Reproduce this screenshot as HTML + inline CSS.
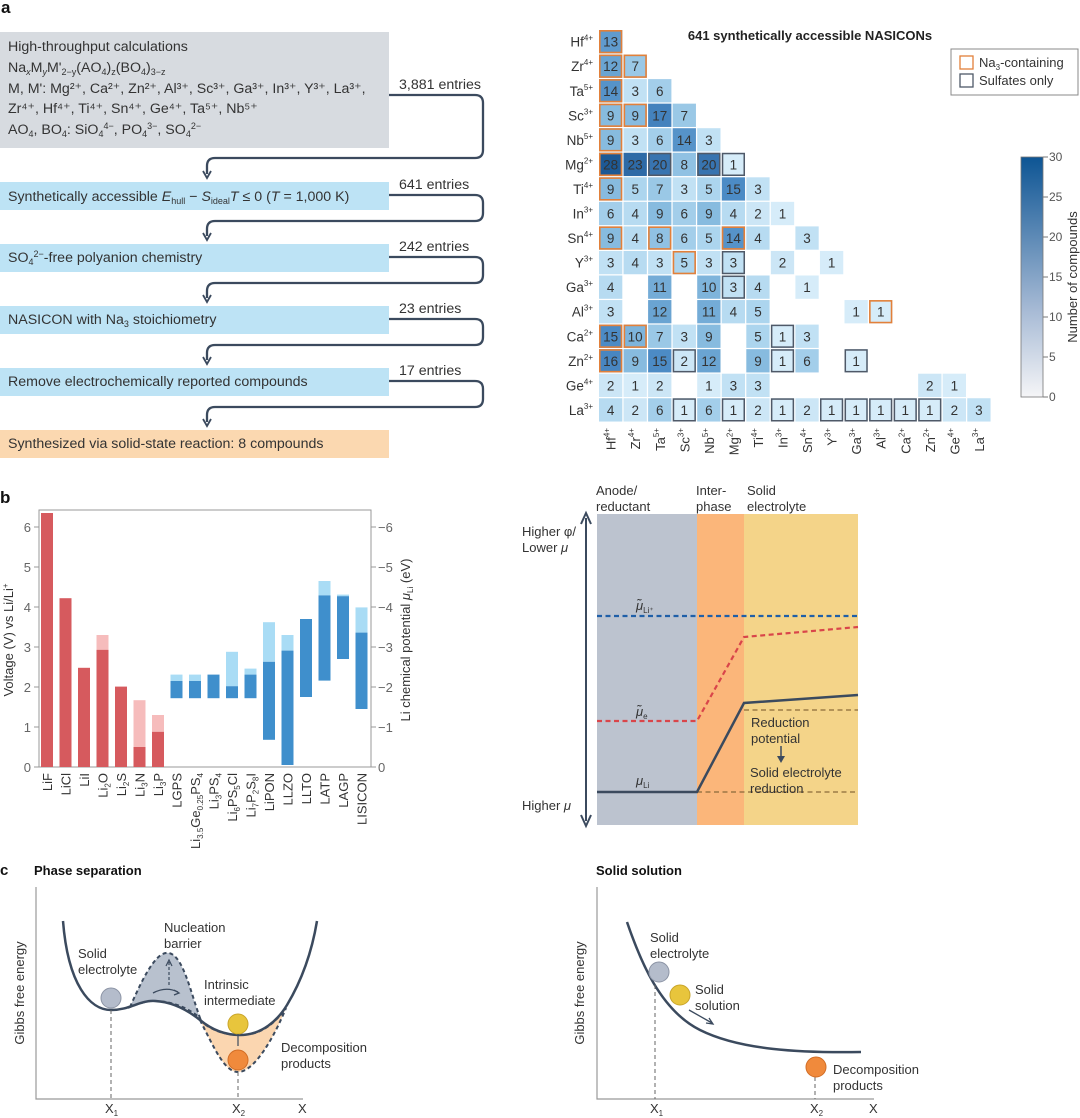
<!DOCTYPE html>
<html><head><meta charset="utf-8"><style>
html,body{margin:0;padding:0;background:#fff}
svg{display:block;font-family:"Liberation Sans",sans-serif}
</style></head><body>
<svg id="fig" width="1080" height="1118" viewBox="0 0 1080 1118" xmlns="http://www.w3.org/2000/svg">
<!-- Panel a: flowchart -->
<g font-size="14.2" fill="#333">
<text x="1" y="13" font-weight="bold" font-size="17" fill="#111">a</text>
<rect x="0" y="32" width="389" height="116" fill="#d7dbe0"/>
<text x="8" y="51">High-throughput calculations</text>
<text x="8" y="72">Na<tspan font-size="9" dy="3" font-style="italic">x</tspan><tspan dy="-3">M</tspan><tspan font-size="9" dy="3" font-style="italic">y</tspan><tspan dy="-3">M'</tspan><tspan font-size="9" dy="3">2−y</tspan><tspan dy="-3">(AO</tspan><tspan font-size="9" dy="3">4</tspan><tspan dy="-3">)</tspan><tspan font-size="9" dy="3">z</tspan><tspan dy="-3">(BO</tspan><tspan font-size="9" dy="3">4</tspan><tspan dy="-3">)</tspan><tspan font-size="9" dy="3">3−z</tspan></text>
<text x="8" y="93">M, M': Mg²⁺, Ca²⁺, Zn²⁺, Al³⁺, Sc³⁺, Ga³⁺, In³⁺, Y³⁺, La³⁺,</text>
<text x="8" y="113">Zr⁴⁺,  Hf⁴⁺, Ti⁴⁺, Sn⁴⁺, Ge⁴⁺, Ta⁵⁺, Nb⁵⁺</text>
<text x="8" y="134">AO<tspan font-size="9" dy="3">4</tspan><tspan dy="-3">, BO</tspan><tspan font-size="9" dy="3">4</tspan><tspan dy="-3">: SiO</tspan><tspan font-size="9" dy="3">4</tspan><tspan font-size="9" dy="-8">4−</tspan><tspan dy="5">, PO</tspan><tspan font-size="9" dy="3">4</tspan><tspan font-size="9" dy="-8">3−</tspan><tspan dy="5">, SO</tspan><tspan font-size="9" dy="3">4</tspan><tspan font-size="9" dy="-8">2−</tspan></text>

<rect x="0" y="182" width="389" height="28" fill="#bde3f5"/>
<text x="8" y="201">Synthetically accessible <tspan font-style="italic">E</tspan><tspan font-size="9" dy="3">hull</tspan><tspan dy="-3"> − </tspan><tspan font-style="italic">S</tspan><tspan font-size="9" dy="3">ideal</tspan><tspan dy="-3" font-style="italic">T</tspan> ≤ 0 (<tspan font-style="italic">T</tspan> = 1,000 K)</text>
<rect x="0" y="244" width="389" height="28" fill="#bde3f5"/>
<text x="8" y="262">SO<tspan font-size="9" dy="3">4</tspan><tspan font-size="9" dy="-8">2−</tspan><tspan dy="5">-free polyanion chemistry</tspan></text>
<rect x="0" y="306" width="389" height="28" fill="#bde3f5"/>
<text x="8" y="324">NASICON with Na<tspan font-size="9" dy="3">3</tspan><tspan dy="-3"> stoichiometry</tspan></text>
<rect x="0" y="368" width="389" height="28" fill="#bde3f5"/>
<text x="8" y="386">Remove electrochemically reported compounds</text>
<rect x="0" y="430" width="389" height="28" fill="#fbd8b0"/>
<text x="8" y="448">Synthesized via solid-state reaction: 8 compounds</text>
<g id="connectors" fill="none" stroke="#3b4a5e" stroke-width="2.3"></g>
</g>

<!-- Panel a: heatmap -->
<g id="heat"></g>

<!-- Panel b bar chart -->
<g id="bars"></g>

<!-- Panel b schematic -->
<g font-size="13" fill="#333">
<rect x="597" y="514" width="100" height="311" fill="#bcc3cf"/>
<rect x="697" y="514" width="47" height="311" fill="#fbb67a"/>
<rect x="744" y="514" width="114" height="311" fill="#f4d489"/>
<text x="596" y="495"><tspan x="596">Anode/</tspan><tspan x="596" dy="16">reductant</tspan></text>
<text x="696" y="495"><tspan x="696">Inter-</tspan><tspan x="696" dy="16">phase</tspan></text>
<text x="747" y="495"><tspan x="747">Solid</tspan><tspan x="747" dy="16">electrolyte</tspan></text>
<line x1="586" y1="518" x2="586" y2="821" stroke="#3b4a5e" stroke-width="2"/>
<path d="M581,524 L586,513 L591,524 M581,815 L586,826 L591,815" fill="none" stroke="#3b4a5e" stroke-width="2"/>
<text x="522" y="536"><tspan x="522">Higher φ/</tspan><tspan x="522" dy="16">Lower <tspan font-style="italic">μ</tspan></tspan></text>
<text x="522" y="810">Higher <tspan font-style="italic">μ</tspan></text>
<line x1="597" y1="616" x2="858" y2="616" stroke="#1f5fa8" stroke-width="2.2" stroke-dasharray="5,3.5"/>
<polyline points="597,721 697,721 744,637 858,627" fill="none" stroke="#d9454a" stroke-width="2.2" stroke-dasharray="5,3.5"/>
<polyline points="744,710 858,710" fill="none" stroke="#8a6a3a" stroke-width="1.2" stroke-dasharray="5,3.5"/>
<polyline points="697,792 858,792" fill="none" stroke="#8a6a3a" stroke-width="1.2" stroke-dasharray="5,3.5"/>
<polyline points="597,792 697,792 744,703 858,695" fill="none" stroke="#3b4a5e" stroke-width="2.5"/>
<text x="636" y="610" font-style="italic">μ̃<tspan font-size="8" dy="3" font-style="normal">Li⁺</tspan></text>
<text x="636" y="716" font-style="italic">μ̃<tspan font-size="8" dy="3" font-style="normal">e</tspan></text>
<text x="636" y="785" font-style="italic">μ<tspan font-size="8" dy="3" font-style="normal">Li</tspan></text>
<text x="751" y="727"><tspan x="751">Reduction</tspan><tspan x="751" dy="16">potential</tspan></text>
<line x1="781" y1="746" x2="781" y2="758" stroke="#3b4a5e" stroke-width="1.5"/>
<path d="M777,756 L781,763 L785,756Z" fill="#3b4a5e"/>
<text x="750" y="777"><tspan x="750">Solid electrolyte</tspan><tspan x="750" dy="16">reduction</tspan></text>
</g>

<!-- Panel c -->
<g font-size="13" fill="#333">
<text x="0" y="875" font-weight="bold" font-size="15" fill="#111">c</text>
<text x="34" y="875" font-weight="bold" font-size="13" fill="#111">Phase separation</text>
<path d="M36,887 V1099 H303" fill="none" stroke="#999" stroke-width="1.2"/>
<text x="24" y="993" transform="rotate(-90 24 993)" text-anchor="middle">Gibbs free energy</text>
<path d="M130,1007 C140,985 155,950 169,953 C183,956 190,990 200,1018 C185,1005 165,1000 150,1001 C140,1003 135,1005 130,1007Z" fill="#b8c1ce" stroke="#3b4a5e" stroke-width="2" stroke-dasharray="4,3"/>
<path d="M200,1020 C215,1050 225,1072 238,1072 C255,1072 275,1035 286,1008 C270,1030 255,1035 240,1035 C225,1035 210,1030 200,1020Z" fill="#fbd6b0" stroke="#3b4a5e" stroke-width="2" stroke-dasharray="4,3"/>
<path d="M63,921 C68,985 90,1010 111,1010 C130,1010 140,1000 155,1001 C175,1002 190,1012 200,1020 C212,1030 225,1035 240,1035 C262,1035 278,1020 287,1005 C305,975 313,945 317,921" fill="none" stroke="#3b4a5e" stroke-width="2.5"/>
<line x1="111" y1="1010" x2="111" y2="1099" stroke="#666" stroke-dasharray="4,3"/>
<line x1="238" y1="1072" x2="238" y2="1099" stroke="#666" stroke-dasharray="4,3"/>
<line x1="169" y1="985" x2="169" y2="962" stroke="#3b4a5e" stroke-dasharray="3,2" stroke-width="1.2"/>
<path d="M166,966 L169,960 L172,966" fill="none" stroke="#3b4a5e" stroke-width="1.2"/>
<path d="M153,993 Q166,986 178,992" fill="none" stroke="#3b4a5e" stroke-width="1.3"/>
<path d="M174,990 L179,993 L174,995" fill="none" stroke="#3b4a5e" stroke-width="1.3"/>
<circle cx="111" cy="998" r="10" fill="#b4bccb" stroke="#8c94a5"/>
<circle cx="238" cy="1024" r="10" fill="#e8c53c" stroke="#c9a52a"/>
<line x1="238" y1="1034" x2="238" y2="1046" stroke="#3b4a5e" stroke-width="1.2"/>
<circle cx="238" cy="1060" r="10" fill="#f08a3c" stroke="#d26d25"/>
<text x="78" y="958"><tspan x="78">Solid</tspan><tspan x="78" dy="16">electrolyte</tspan></text>
<text x="164" y="932"><tspan x="164">Nucleation</tspan><tspan x="164" dy="16">barrier</tspan></text>
<text x="204" y="989"><tspan x="204">Intrinsic</tspan><tspan x="204" dy="16">intermediate</tspan></text>
<text x="281" y="1052"><tspan x="281">Decomposition</tspan><tspan x="281" dy="16">products</tspan></text>
<text x="105" y="1113">X<tspan font-size="8" dy="3">1</tspan></text>
<text x="232" y="1113">X<tspan font-size="8" dy="3">2</tspan></text>
<text x="298" y="1113">X</text>

<text x="596" y="875" font-weight="bold" font-size="13" fill="#111">Solid solution</text>
<path d="M597,887 V1099 H874" fill="none" stroke="#999" stroke-width="1.2"/>
<text x="584" y="993" transform="rotate(-90 584 993)" text-anchor="middle">Gibbs free energy</text>
<path d="M627,922 C640,960 660,1010 700,1030 C740,1050 800,1053 861,1052" fill="none" stroke="#3b4a5e" stroke-width="2.5"/>
<line x1="655" y1="985" x2="655" y2="1099" stroke="#666" stroke-dasharray="4,3"/>
<line x1="815" y1="1077" x2="815" y2="1099" stroke="#666" stroke-dasharray="4,3"/>
<path d="M689,1010 L712,1023 M706,1023 L713,1024 L709,1018" fill="none" stroke="#3b4a5e" stroke-width="1.3"/>
<circle cx="659" cy="972" r="10" fill="#b4bccb" stroke="#8c94a5"/>
<circle cx="680" cy="995" r="10" fill="#e8c53c" stroke="#c9a52a"/>
<circle cx="816" cy="1067" r="10" fill="#f08a3c" stroke="#d26d25"/>
<text x="650" y="942"><tspan x="650">Solid</tspan><tspan x="650" dy="16">electrolyte</tspan></text>
<text x="695" y="994"><tspan x="695">Solid</tspan><tspan x="695" dy="16">solution</tspan></text>
<text x="833" y="1074"><tspan x="833">Decomposition</tspan><tspan x="833" dy="16">products</tspan></text>
<text x="650" y="1113">X<tspan font-size="8" dy="3">1</tspan></text>
<text x="810" y="1113">X<tspan font-size="8" dy="3">2</tspan></text>
<text x="869" y="1113">X</text>
</g>
</svg>
<script>
const NS="http://www.w3.org/2000/svg";
function mk(tag,attrs,parent){const e=document.createElementNS(NS,tag);for(const k in attrs)e.setAttribute(k,attrs[k]);parent.appendChild(e);return e;}

// ---- flowchart connectors ----
const entryLabels=["3,881 entries","641 entries","242 entries","23 entries","17 entries"];
const connY=[[95,158,178],[195,221,240],[257,283,302],[319,345,364],[381,407,426]];
const conn=document.getElementById('connectors');
connY.forEach((c,i)=>{
  const [a,b,t]=c;
  const p=mk('path',{d:`M389,${a} H475 Q483,${a} 483,${a+8} V${b-8} Q483,${b} 475,${b} H215 Q207,${b} 207,${b+8} V${t-4}`},conn);
  
  
  const h=mk('path',{d:`M203,${t-7} L207,${t} L211,${t-7}`,'stroke-width':'1.8'},conn);
  
  
  const tx=mk('text',{x:399,y:a-6,'font-size':'14.2',fill:'#333',stroke:'none'},conn.parentNode);
  tx.textContent=entryLabels[i];
  
  
});

// ---- heatmap ----
const ions=["Hf","Zr","Ta","Sc","Nb","Mg","Ti","In","Sn","Y","Ga","Al","Ca","Zn","Ge","La"];
const charges=["4+","4+","5+","3+","5+","2+","4+","3+","4+","3+","3+","3+","2+","2+","4+","3+"];
const heatValues=[
[13],
[12,7],
[14,3,6],
[9,9,17,7],
[9,3,6,14,3],
[28,23,20,8,20,1],
[9,5,7,3,5,15,3],
[6,4,9,6,9,4,2,1],
[9,4,8,6,5,14,4,null,3],
[3,4,3,5,3,3,null,2,null,1],
[4,null,11,null,10,3,4,null,1,null,null],
[3,null,12,null,11,4,5,null,null,null,1,1],
[15,10,7,3,9,null,5,1,3,null,null,null,null],
[16,9,15,2,12,null,9,1,6,null,1,null,null,null],
[2,1,2,null,1,3,3,null,null,null,null,null,null,2,1],
[4,2,6,1,6,1,2,1,2,1,1,1,1,1,2,3]];
const na3Cells=[[0,0],[1,0],[2,0],[3,0],[4,0],[5,0],[6,0],[8,0],[12,0],[13,0],[1,1],[3,1],[12,1],[8,2],[9,3],[8,5],[11,11]];
const sulfateCells=[[5,5],[9,5],[10,5],[12,7],[13,3],[13,7],[13,10],[5,2],[5,4],[15,3],[15,5],[15,7],[15,9],[15,10],[15,11],[15,12],[15,13]];
const cbTicks=[0,5,10,15,20,25,30];
const H=document.getElementById('heat');
const hx0=599,hy0=30,pitch=24.55,cs=23.3;
const stops=[[0,[240,246,251]],[1,[214,236,249]],[5,[172,213,238]],[10,[126,180,219]],[15,[76,139,197]],[20,[56,116,176]],[30,[22,82,142]]];
function col(v){for(let i=1;i<stops.length;i++){if(v<=stops[i][0]){const[a,ca]=stops[i-1],[b,cb]=stops[i];const t=(v-a)/(b-a);return`rgb(${ca.map((c,k)=>Math.round(c+(cb[k]-c)*t)).join(',')})`;}}return'rgb(22,82,142)';}
const cx=c=>hx0+c*pitch, cy=r=>hy0+r*pitch;
heatValues.forEach((row,r)=>{row.forEach((v,c)=>{if(v===null)return;
  const re=mk('rect',{x:cx(c),y:cy(r),width:cs,height:cs,fill:col(v)},H);
  
  
  const t=mk('text',{x:cx(c)+cs/2,y:cy(r)+cs/2+5,'text-anchor':'middle','font-size':'13.5',fill:'#333'},H);
  t.textContent=v;
  
  
});});
sulfateCells.forEach(([r,c])=>{const b=mk('rect',{x:cx(c)+0.8,y:cy(r)+0.8,width:cs-1.6,height:cs-1.6,fill:'none',stroke:'#4f5968','stroke-width':'1.5'},H);
  
  });
na3Cells.forEach(([r,c])=>{const b=mk('rect',{x:cx(c)+0.8,y:cy(r)+0.8,width:cs-1.6,height:cs-1.6,fill:'none',stroke:'#e2803a','stroke-width':'1.6'},H);
  
  });
ions.forEach((n,i)=>{
  const t=mk('text',{x:593,y:cy(i)+cs/2+5,'text-anchor':'end','font-size':'13.5',fill:'#333'},H);
  t.innerHTML=n+'<tspan font-size="8" dy="-6">'+charges[i]+'</tspan>';
  
  
  const xx=cx(i)+cs/2+5, yy=428;
  const u=mk('text',{x:xx,y:yy,'text-anchor':'end','font-size':'13',fill:'#333',transform:`rotate(-90 ${xx} ${yy})`},H);
  u.innerHTML=n+'<tspan font-size="8" dy="-6">'+charges[i]+'</tspan>';
  
  
});
const ttl=mk('text',{x:810,y:40,'text-anchor':'middle','font-size':'13','font-weight':'bold',fill:'#222'},H);
ttl.textContent='641 synthetically accessible NASICONs';


const lg=mk('rect',{x:951,y:49,width:127,height:46,fill:'#fff',stroke:'#888'},H);


[[56,'#e2803a','Na','-containing'],[74,'#4f5968','Sulfates only','']].forEach(([y,c,a,b])=>{
  const s=mk('rect',{x:960,y:y,width:13,height:13,fill:'none',stroke:c,'stroke-width':'1.3'},H);
  
  
  const t=mk('text',{x:979,y:y+11,'font-size':'13',fill:'#333'},H);
  t.innerHTML=b?a+'<tspan font-size="8" dy="3">3</tspan><tspan dy="-3">'+b+'</tspan>':a;
  
  
});
const defs=mk('defs',{},H);
const lgd=mk('linearGradient',{id:'cbg',x1:0,y1:1,x2:0,y2:0},defs);
mk('stop',{offset:'0','stop-color':'#f5f5f7'},lgd);
mk('stop',{offset:'0.35','stop-color':'#a9bcd6'},lgd);
mk('stop',{offset:'1','stop-color':'#0d5594'},lgd);
const cbTop=157,cbBot=397;
const cb=mk('rect',{x:1021,y:cbTop,width:22,height:cbBot-cbTop,fill:'url(#cbg)',stroke:'#777','stroke-width':'0.8'},H);


cbTicks.forEach(v=>{const y=cbBot-(cbBot-cbTop)*v/30;
  mk('line',{x1:1043,x2:1048,y1:y,y2:y,stroke:'#777'},H);
  const t=mk('text',{x:1049,y:y+4,'font-size':'12',fill:'#555'},H);t.textContent=v;
  
  });
const cbl=mk('text',{x:1077,y:277,'text-anchor':'middle','font-size':'13',fill:'#333',transform:'rotate(-90 1077 277)'},H);
cbl.textContent='Number of compounds';



// ---- bar chart ----
const materials=["LiF","LiCl","LiI","Li2O","Li2S","Li3N","Li3P","LGPS","Li3.5Ge0.25PS4","Li3PS4","Li6PS5Cl","Li7P2S8I","LiPON","LLZO","LLTO","LATP","LAGP","LISICON"];
const matLabels=["LiF","LiCl","LiI","Li<tspan font-size='8' dy='3'>2</tspan><tspan dy='-3'>O</tspan>","Li<tspan font-size='8' dy='3'>2</tspan><tspan dy='-3'>S</tspan>","Li<tspan font-size='8' dy='3'>3</tspan><tspan dy='-3'>N</tspan>","Li<tspan font-size='8' dy='3'>3</tspan><tspan dy='-3'>P</tspan>","LGPS","Li<tspan font-size='8' dy='3'>3.5</tspan><tspan dy='-3'>Ge</tspan><tspan font-size='8' dy='3'>0.25</tspan><tspan dy='-3'>PS</tspan><tspan font-size='8' dy='3'>4</tspan>","Li<tspan font-size='8' dy='3'>3</tspan><tspan dy='-3'>PS</tspan><tspan font-size='8' dy='3'>4</tspan>","Li<tspan font-size='8' dy='3'>6</tspan><tspan dy='-3'>PS</tspan><tspan font-size='8' dy='3'>5</tspan><tspan dy='-3'>Cl</tspan>","Li<tspan font-size='8' dy='3'>7</tspan><tspan dy='-3'>P</tspan><tspan font-size='8' dy='3'>2</tspan><tspan dy='-3'>S</tspan><tspan font-size='8' dy='3'>8</tspan><tspan dy='-3'>I</tspan>","LiPON","LLZO","LLTO","LATP","LAGP","LISICON"];
const lowV=[0,0,0,0,0,0,0,1.72,1.72,1.72,1.72,1.72,0.68,0.05,1.75,2.16,2.70,1.45];
const darkTopV=[6.35,4.22,2.48,2.93,2.01,0.50,0.88,2.15,2.15,2.31,2.02,2.31,2.63,2.91,3.70,4.29,4.27,3.36];
const lightTopV=[6.35,4.22,2.48,3.30,2.01,1.67,1.30,2.31,2.31,2.31,2.88,2.46,3.62,3.30,3.70,4.65,4.31,3.99];
const yTicks=[0,1,2,3,4,5,6];
const rTickLabels=["0","−1","−2","−3","−4","−5","−6"];
const B=document.getElementById('bars');
const px0=39,px1=371,py0=767,pyTop=510;
const yS=v=>py0-v*40;
const xS=i=>47+i*18.5;
const bl=mk('text',{x:0,y:503,'font-size':'17','font-weight':'bold',fill:'#111'},B);bl.textContent='b';


const fr=mk('rect',{x:px0,y:pyTop,width:px1-px0,height:py0-pyTop,fill:'none',stroke:'#999'},B);


yTicks.forEach((v,i)=>{const y=yS(v);
  mk('line',{x1:px0-5,x2:px0,y1:y,y2:y,stroke:'#999'},B);
  mk('line',{x1:px1,x2:px1+5,y1:y,y2:y,stroke:'#999'},B);
  const t=mk('text',{x:px0-8,y:y+5,'text-anchor':'end','font-size':'13',fill:'#666'},B);t.textContent=v;
  
  
  const r=mk('text',{x:px1+7,y:y+5,'font-size':'13',fill:'#666'},B);r.textContent=rTickLabels[i];
  
  });
materials.forEach((m,i)=>{
  const red=i<7, x=xS(i)-6;
  const lc=red?'#f6bcbc':'#a9dcf5', dc=red?'#d65a5e':'#3f8fcc';
  if(lightTopV[i]>darkTopV[i]){const r=mk('rect',{x:x,y:yS(lightTopV[i]),width:12,height:yS(darkTopV[i])-yS(lightTopV[i]),fill:lc},B);
    
    }
  const d=mk('rect',{x:x,y:yS(darkTopV[i]),width:12,height:yS(lowV[i])-yS(darkTopV[i]),fill:dc},B);
  
  
  const lx=xS(i)+5, ly=773;
  const t=mk('text',{x:lx,y:ly,'text-anchor':'end','font-size':'13',fill:'#333',transform:`rotate(-90 ${lx} ${ly})`},B);
  t.innerHTML=matLabels[i];
  
  
});
const yl=mk('text',{x:13,y:640,'text-anchor':'middle','font-size':'13',fill:'#333',transform:'rotate(-90 13 640)'},B);
yl.innerHTML="Voltage (V) vs Li/Li<tspan font-size='8' dy='-5'>+</tspan>";


const yr=mk('text',{x:410,y:640,'text-anchor':'middle','font-size':'13',fill:'#333',transform:'rotate(-90 410 640)'},B);
yr.innerHTML="Li chemical potential <tspan font-style='italic'>μ</tspan><tspan font-size='8' dy='3'>Li</tspan><tspan dy='-3'> (eV)</tspan>";


</script>
</body></html>
